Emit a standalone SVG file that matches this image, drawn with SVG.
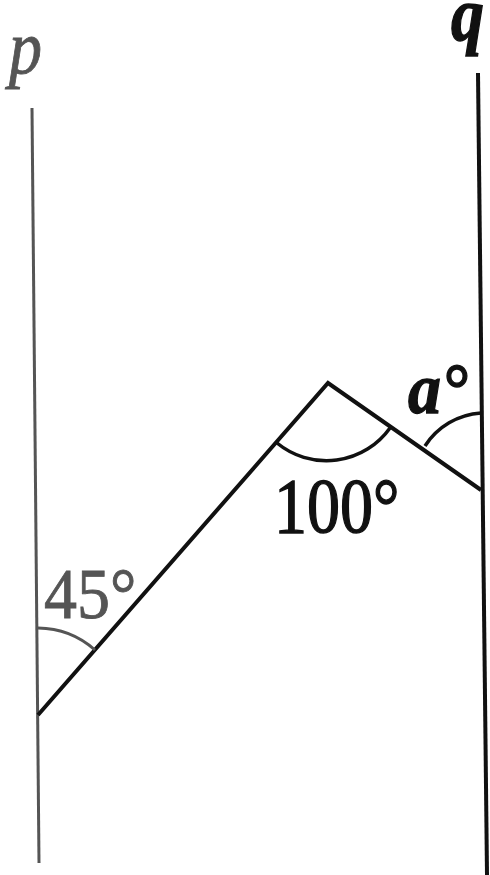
<svg xmlns="http://www.w3.org/2000/svg" width="490" height="875" viewBox="0 0 490 875">
<style>
.ln{fill:none;stroke:#111;stroke-width:4;stroke-linecap:butt;stroke-linejoin:miter}
.gl{fill:none;stroke:#555;stroke-width:3}
.arc{fill:none;stroke:#111;stroke-width:3.5}
.garc{fill:none;stroke:#555;stroke-width:3}
.t{font-family:"Liberation Serif","Times New Roman",serif;font-size:66px;fill:#111;stroke:#111;stroke-width:1.2}
.g{fill:#555;stroke:#555;stroke-width:0.8}
.it{font-style:italic}
.b{font-weight:bold}
</style>
<rect width="490" height="875" fill="#fff"/>
<g id="lines">
<line id="p-line" class="gl" x1="32" y1="108" x2="39" y2="863"/>
<line id="q-line" class="ln" x1="478" y1="73" x2="487" y2="875"/>
<polyline id="zigzag" class="ln" points="38,715 328,383 481,490"/>
</g>
<g id="arcs">
<path id="arc45" class="garc" d="M38,628 A87,87 0 0 1 95,650"/>
<path id="arc100" class="arc" d="M277,443 A78,78 0 0 0 390,428"/>
<path id="arca" class="arc" d="M425,446 A72,72 0 0 1 481,413"/>
</g>
<g id="label-p"><text class="t g it" transform="translate(9,73) scale(1,1.15)">p</text></g>
<g id="label-q"><text class="t it b" transform="translate(451,40) scale(1,1.15)">q</text></g>
<g id="label-45"><text class="t g" transform="translate(44,618) scale(1,1.1)">45°</text></g>
<g id="label-100"><text class="t" transform="translate(274,532) scale(1,1.17)">100°</text></g>
<g id="label-a"><text class="t it b" transform="translate(408,413) scale(1,1.1)">a°</text></g>
</svg>
